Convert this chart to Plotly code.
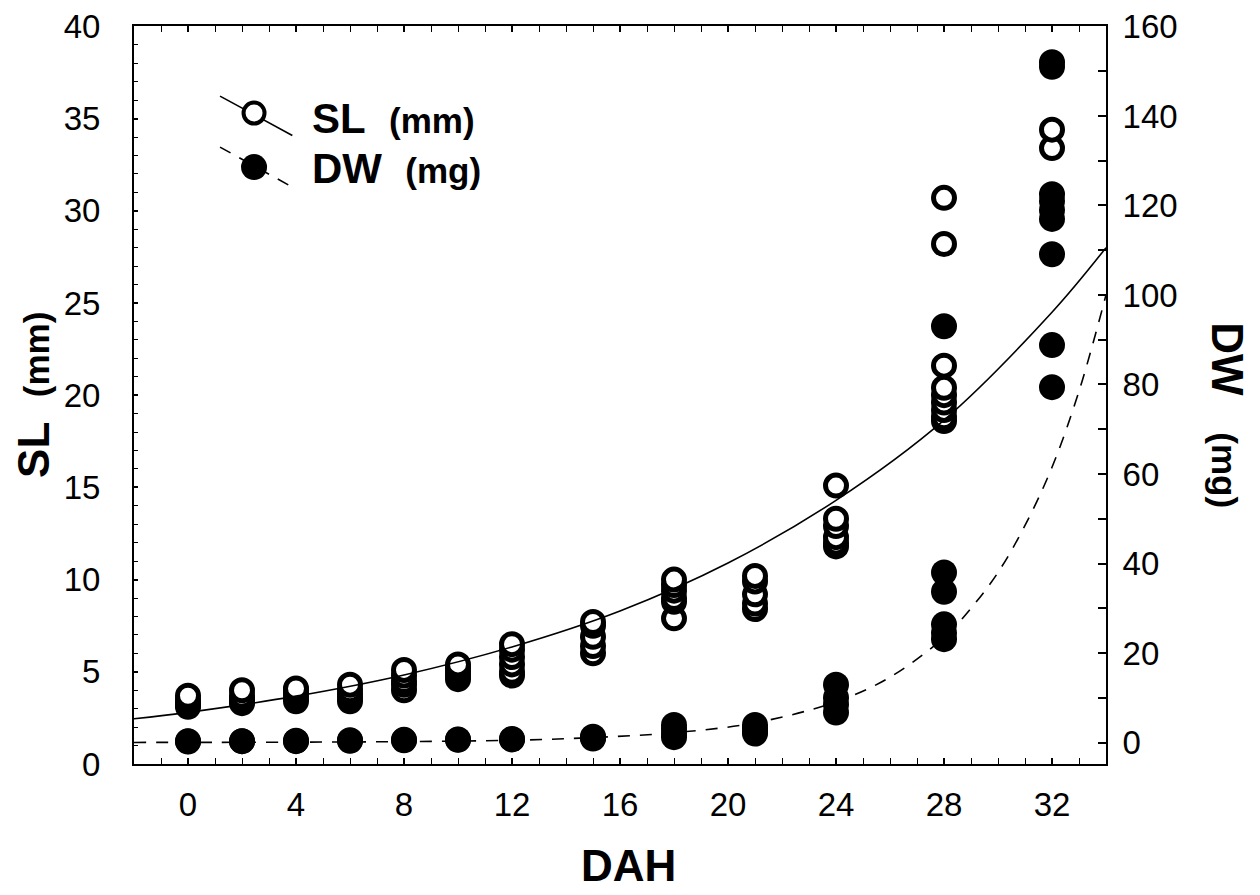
import plotly.graph_objects as go

# Jours après éclosion (DAH) échantillonnés
days = [0, 2, 4, 6, 8, 10, 12, 15, 18, 21, 24, 28, 32]

# Longueur standard (mm) (ordre croissant : le plus haut est dessiné en dernier)
sl_values = [
    [3.1, 3.2, 3.3, 3.5, 3.7],
    [3.3, 3.4, 3.5, 3.7, 4.0],
    [3.4, 3.6, 3.8, 4.0, 4.1],
    [3.4, 3.6, 3.8, 4.0, 4.3],
    [4.0, 4.3, 4.5, 4.8, 5.1],
    [4.6, 4.8, 5.0, 5.2, 5.4],
    [4.8, 5.0, 5.4, 5.8, 6.2, 6.5],
    [6.0, 6.4, 6.9, 7.5, 7.7],
    [7.9, 8.8, 9.0, 9.4, 9.7, 10.0],
    [8.4, 8.7, 9.2, 9.9, 10.2],
    [11.8, 12.0, 12.3, 12.9, 13.3, 15.1],
    [18.6, 18.8, 19.2, 19.6, 20.0, 20.4, 21.6, 28.2, 30.7],
    [33.4, 34.4],
]

# Poids sec (mg)
dw_values = [
    [0.2, 0.3],
    [0.3, 0.3],
    [0.3, 0.4],
    [0.4, 0.5],
    [0.5, 0.6],
    [0.6, 0.7],
    [0.7, 0.8],
    [0.9, 1.1, 1.3],
    [1.2, 2.0, 3.0, 3.9],
    [2.0, 2.5, 3.2, 3.9],
    [6.7, 8.5, 10.0, 12.9],
    [23.1, 24.5, 26.4, 33.7, 38.0, 93.0],
    [79.4, 88.8, 109.1, 117.0, 119.0, 121.0, 122.5, 151.0, 152.0],
]

# Courbes d'ajustement
sl_curve_days = [-2, 0, 4, 8, 12, 16, 20, 24, 28, 32, 34]
sl_curve = [2.45, 2.80, 3.68, 4.83, 6.35, 8.3, 10.9, 14.3, 18.65, 24.5, 28.0]

dw_curve_days = [-2, 0, 4, 8, 12, 15, 18, 21, 24, 26, 28, 29, 30, 31, 32, 33, 34]
dw_curve = [0.02, 0.03, 0.08, 0.2, 0.5, 1.1, 2.2, 4.4, 9.1, 14.6, 23.5,
            30.0, 38.0, 48.5, 61.5, 78.5, 100.0]

x_tick_vals = [0, 4, 8, 12, 16, 20, 24, 28, 32]

FONT = "Arial, Liberation Sans, sans-serif"

sl_x = [d for d, vals in zip(days, sl_values) for _ in vals]
sl_y = [v for vals in sl_values for v in vals]
dw_x = [d for d, vals in zip(days, dw_values) for _ in vals]
dw_y = [v for vals in dw_values for v in vals]

fig = go.Figure()

# cercles ouverts : SL
fig.add_trace(go.Scatter(
    x=sl_x, y=sl_y, mode="markers", name="SL (mm)",
    marker=dict(symbol="circle", size=21, color="white",
                line=dict(color="black", width=5)),
    yaxis="y"
))

fig.add_trace(go.Scatter(
    x=sl_curve_days, y=sl_curve, mode="lines",
    line=dict(color="black", width=1.6, shape="spline"),
    hoverinfo="skip", yaxis="y"
))

fig.add_trace(go.Scatter(
    x=dw_curve_days, y=dw_curve, mode="lines",
    line=dict(color="black", width=1.6, dash="12px,10px", shape="spline"),
    hoverinfo="skip", yaxis="y2"
))

# points pleins : DW
fig.add_trace(go.Scatter(
    x=dw_x, y=dw_y, mode="markers", name="DW (mg)",
    marker=dict(symbol="circle", size=26, color="black", line=dict(width=0)),
    yaxis="y2"
))

# légende dessinée à la main (comme l'original)
shapes = [
    dict(type="line", xref="paper", yref="paper",
         x0=0.0885, y0=0.905, x1=0.1629, y1=0.8517,
         line=dict(color="black", width=1.6)),
    dict(type="line", xref="paper", yref="paper",
         x0=0.0885, y0=0.8359, x1=0.1629, y1=0.7817,
         line=dict(color="black", width=1.6, dash="12px,10px")),
    dict(type="circle", xref="paper", yref="paper",
         xsizemode="pixel", ysizemode="pixel",
         xanchor=0.1235, yanchor=0.882,
         x0=-10.5, x1=10.5, y0=-10.5, y1=10.5,
         fillcolor="white", line=dict(color="black", width=4)),
    dict(type="circle", xref="paper", yref="paper",
         xsizemode="pixel", ysizemode="pixel",
         xanchor=0.1235, yanchor=0.8088,
         x0=-13, x1=13, y0=-13, y1=13,
         fillcolor="black", line=dict(color="black", width=0)),
]

annotations = [
    dict(text="<b>SL</b>&nbsp;&nbsp;<b><span style='font-size:35px'>(mm)</span></b>",
         xref="paper", yref="paper", x=0.181, y=0.875,
         xanchor="left", yanchor="middle", showarrow=False,
         font=dict(family=FONT, size=42, color="black")),
    dict(text="<b>DW</b>&nbsp;&nbsp;<b><span style='font-size:35px'>(mg)</span></b>",
         xref="paper", yref="paper", x=0.181, y=0.807,
         xanchor="left", yanchor="middle", showarrow=False,
         font=dict(family=FONT, size=42, color="black")),
    # titres des axes
    dict(text="<b>DAH</b>", xref="paper", yref="paper", x=0.509, y=-0.138,
         xanchor="center", yanchor="middle", showarrow=False,
         font=dict(family=FONT, size=44, color="black")),
    dict(text="<b>SL</b>&nbsp;&nbsp;<b><span style='font-size:35px'>(mm)</span></b>",
         xref="paper", yref="paper", x=-0.104, y=0.5, textangle=-90,
         xanchor="center", yanchor="middle", showarrow=False,
         font=dict(family=FONT, size=44, color="black")),
    dict(text="<b>DW</b>&nbsp;&nbsp;&nbsp;<b><span style='font-size:35px'>(mg)</span></b>",
         xref="paper", yref="paper", x=1.1255, y=0.4726, textangle=90,
         xanchor="center", yanchor="middle", showarrow=False,
         font=dict(family=FONT, size=44, color="black")),
]

# la page ajoute ~8 px de marge autour du graphique : on réduit la taille en conséquence
fig.update_layout(
    width=1252, height=887,
    margin=dict(l=126, r=154, t=18, b=131),
    paper_bgcolor="white", plot_bgcolor="white",
    showlegend=False,
    font=dict(family=FONT, size=33, color="black"),
    xaxis=dict(
        range=[-2, 34], tickvals=x_tick_vals, automargin=False,
        ticks="inside", ticklen=6, tickwidth=1.5, tickcolor="black",
        minor=dict(dtick=1, tick0=0, ticks="inside", ticklen=4,
                   tickwidth=1.2, tickcolor="black"),
        showline=True, linecolor="black", linewidth=2, mirror="allticks",
        showgrid=False, zeroline=False,
        ticklabelstandoff=10,
        tickfont=dict(family=FONT, size=33),
    ),
    yaxis=dict(
        range=[0, 40.02], dtick=5, tick0=0, automargin=False,
        ticklabeloverflow="allow",
        ticks="inside", ticklen=4, tickwidth=1.5, tickcolor="black",
        minor=dict(dtick=1, ticks="inside", ticklen=4,
                   tickwidth=1.2, tickcolor="black"),
        showline=True, linecolor="black", linewidth=2,
        showgrid=False, zeroline=False,
        ticklabelstandoff=25,
        tickfont=dict(family=FONT, size=33),
    ),
    yaxis2=dict(
        range=[-4.8, 160.1], dtick=20, tick0=0, overlaying="y", side="right",
        automargin=False, ticklabeloverflow="allow",
        ticks="inside", ticklen=8, tickwidth=1.5, tickcolor="black",
        minor=dict(dtick=10, tick0=0, ticks="inside", ticklen=8,
                   tickwidth=1.5, tickcolor="black"),
        showline=True, linecolor="black", linewidth=2,
        showgrid=False, zeroline=False,
        ticklabelstandoff=8,
        tickfont=dict(family=FONT, size=33),
    ),
    shapes=shapes,
    annotations=annotations,
)

fig.write_html("out.html")
